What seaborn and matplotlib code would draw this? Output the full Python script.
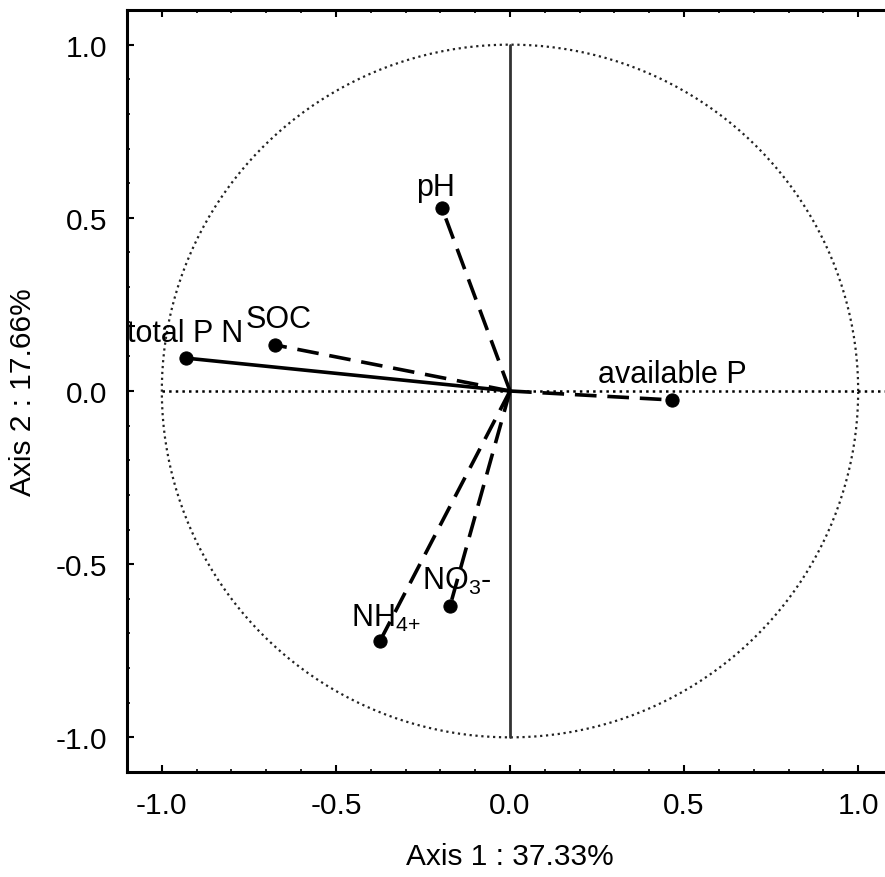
import numpy as np
import pandas as pd
import matplotlib
matplotlib.use('Agg')
import matplotlib.pyplot as plt
import seaborn as sns
from matplotlib.ticker import MultipleLocator

# Variable loadings on the first two axes
variables = ['total P N', 'SOC', 'pH', 'available P', 'NO$_3$-', 'NH$_{4{+}}$']
axis1 = [-0.931, -0.675, -0.195, 0.466, -0.172, -0.374]
axis2 = [0.095, 0.133, 0.527, -0.026, -0.620, -0.723]
styles = ['-', '--', '--', '--', '--', '--']

# label anchor points (left/baseline of text)
label_x = [-1.10, -0.76, -0.27, 0.253, -0.253, -0.457]
label_y = [0.144, 0.184, 0.565, 0.026, -0.571, -0.677]

axis1_label = 'Axis 1 : 37.33%'
axis2_label = 'Axis 2 : 17.66%'

df = pd.DataFrame({'var': variables, 'x': axis1, 'y': axis2})

sns.set_style('ticks')
plt.rcParams['font.family'] = ['Liberation Sans', 'DejaVu Sans']
plt.rcParams['mathtext.default'] = 'regular'
plt.rcParams['text.color'] = 'black'
plt.rcParams['axes.labelcolor'] = 'black'
plt.rcParams['xtick.color'] = 'black'
plt.rcParams['ytick.color'] = 'black'

fig = plt.figure(figsize=(8.85, 8.78), dpi=100)
ax = fig.add_axes([127 / 885, 105 / 878, 766 / 885, 762 / 878])

# unit circle and reference lines
t = np.linspace(0, 2 * np.pi, 400)
ax.plot(np.cos(t), np.sin(t), ls=':', color='#222222', lw=1.6)
ax.plot([-1, 1.1], [0, 0], ls=':', color='black', lw=1.8)
ax.plot([0, 0], [-1, 1], ls='-', color='#333333', lw=2)

# vectors from origin
for i, row in df.iterrows():
    seg = pd.DataFrame({'x': [0, row['x']], 'y': [0, row['y']]})
    line = sns.lineplot(data=seg, x='x', y='y', ax=ax, color='black', lw=2.6,
                        sort=False, estimator=None)
    ln = line.get_lines()[-1]
    ln.set_linestyle(styles[i])
    if styles[i] == '--':
        ln.set_dashes((6, 3))

sns.scatterplot(data=df, x='x', y='y', ax=ax, color='black', s=90,
                edgecolor='black', zorder=5)

for name, lx, ly in zip(variables, label_x, label_y):
    ax.text(lx, ly, name, fontsize=22, ha='left', va='baseline', color='black')

ax.set_xlim(-1.1, 1.1)
ax.set_ylim(-1.1, 1.1)
ax.xaxis.set_major_locator(MultipleLocator(0.5))
ax.yaxis.set_major_locator(MultipleLocator(0.5))
ax.xaxis.set_minor_locator(MultipleLocator(0.1))
ax.yaxis.set_minor_locator(MultipleLocator(0.1))
ax.xaxis.set_major_formatter(matplotlib.ticker.FormatStrFormatter('%.1f'))
ax.yaxis.set_major_formatter(matplotlib.ticker.FormatStrFormatter('%.1f'))
ax.tick_params(which='both', direction='in', top=True, right=True,
               labelsize=21.5, color='black', labelcolor='black', pad=14)
ax.tick_params(which='major', length=5, width=1.5)
ax.tick_params(which='minor', length=2.5, width=1.2)
for s in ax.spines.values():
    s.set_linewidth(2.2)
    s.set_color('black')

ax.set_xlabel(axis1_label, fontsize=21.5, labelpad=16, color='black')
ax.set_ylabel(axis2_label, fontsize=21.5, labelpad=14, color='black')

fig.savefig('out.png', dpi=100)
